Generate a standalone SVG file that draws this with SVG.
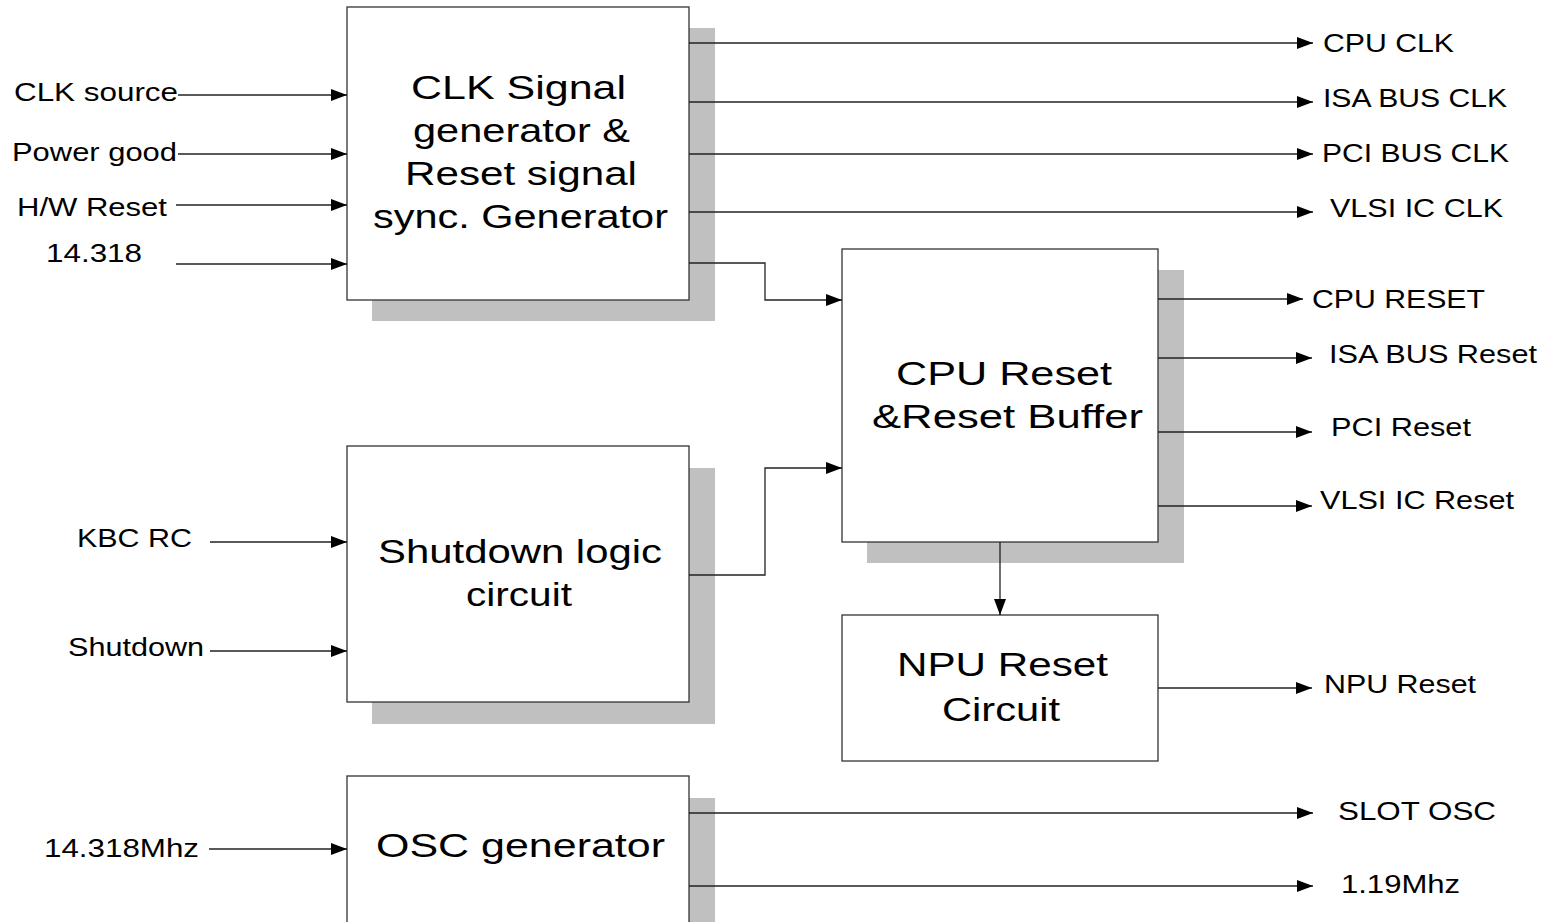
<svg xmlns="http://www.w3.org/2000/svg" width="1552" height="922" viewBox="0 0 1552 922">
<defs>
<marker id="arr" viewBox="0 0 16 12" markerWidth="16" markerHeight="12" refX="16" refY="6" orient="auto" markerUnits="userSpaceOnUse">
<path d="M0,0 L16,6 L0,12 z" fill="#000"/>
</marker>
<style>
.box{fill:#fff;stroke:#333;stroke-width:1.3}
.shadow{fill:#c0c0c0;stroke:none}
.wire{fill:none;stroke:#222;stroke-width:1.3}
.arrow{marker-end:url(#arr)}
.lbl{font-family:"Liberation Sans",Arial,sans-serif;font-size:25px;fill:#000}
.big{font-family:"Liberation Sans",Arial,sans-serif;font-size:34px;fill:#000}
</style>
</defs>
<rect width="1552" height="922" fill="#fff"/>

<g id="node-clk">
<rect class="shadow" x="372" y="28" width="343" height="293"/>
<rect class="box" x="347" y="7" width="342" height="293"/>
<text class="big" x="411" y="99" textLength="215" lengthAdjust="spacingAndGlyphs">CLK Signal</text>
<text class="big" x="413" y="142" textLength="217" lengthAdjust="spacingAndGlyphs">generator &amp;</text>
<text class="big" x="405" y="185" textLength="232" lengthAdjust="spacingAndGlyphs">Reset signal</text>
<text class="big" x="373" y="228" textLength="295" lengthAdjust="spacingAndGlyphs">sync. Generator</text>
</g>

<g id="node-shutdown">
<rect class="shadow" x="372" y="468" width="343" height="256"/>
<rect class="box" x="347" y="446" width="342" height="256"/>
<text class="big" x="378" y="563" textLength="284" lengthAdjust="spacingAndGlyphs">Shutdown logic</text>
<text class="big" x="466" y="606" textLength="106" lengthAdjust="spacingAndGlyphs">circuit</text>
</g>

<g id="node-osc">
<rect class="shadow" x="372" y="798" width="343" height="140"/>
<rect class="box" x="347" y="776" width="342" height="160"/>
<text class="big" x="376" y="857" textLength="289" lengthAdjust="spacingAndGlyphs">OSC generator</text>
</g>

<g id="node-cpureset">
<rect class="shadow" x="867" y="270" width="317" height="293"/>
<rect class="box" x="842" y="249" width="316" height="293"/>
<text class="big" x="896" y="385" textLength="216" lengthAdjust="spacingAndGlyphs">CPU Reset</text>
<text class="big" x="872" y="428" textLength="271" lengthAdjust="spacingAndGlyphs">&amp;Reset Buffer</text>
</g>

<g id="node-npu">
<rect class="box" x="842" y="615" width="316" height="146"/>
<text class="big" x="897" y="676" textLength="211" lengthAdjust="spacingAndGlyphs">NPU Reset</text>
<text class="big" x="942" y="721" textLength="118" lengthAdjust="spacingAndGlyphs">Circuit</text>
</g>

<g id="connectors">
<line class="wire arrow" x1="178" y1="95" x2="347" y2="95"/>
<line class="wire arrow" x1="178" y1="154" x2="347" y2="154"/>
<line class="wire arrow" x1="176" y1="205" x2="347" y2="205"/>
<line class="wire arrow" x1="176" y1="264" x2="347" y2="264"/>
<line class="wire arrow" x1="210" y1="542" x2="347" y2="542"/>
<line class="wire arrow" x1="210" y1="651" x2="347" y2="651"/>
<line class="wire arrow" x1="209" y1="849" x2="347" y2="849"/>

<line class="wire arrow" x1="689" y1="43" x2="1313" y2="43"/>
<line class="wire arrow" x1="689" y1="102" x2="1313" y2="102"/>
<line class="wire arrow" x1="689" y1="154" x2="1313" y2="154"/>
<line class="wire arrow" x1="689" y1="212" x2="1313" y2="212"/>

<polyline class="wire arrow" points="689,263 765,263 765,300 842,300"/>
<polyline class="wire arrow" points="689,575 765,575 765,468 842,468"/>

<line class="wire arrow" x1="1158" y1="299" x2="1303" y2="299"/>
<line class="wire arrow" x1="1158" y1="358" x2="1312" y2="358"/>
<line class="wire arrow" x1="1158" y1="432" x2="1312" y2="432"/>
<line class="wire arrow" x1="1158" y1="506" x2="1312" y2="506"/>

<line class="wire arrow" x1="1000" y1="542" x2="1000" y2="615"/>
<line class="wire arrow" x1="1158" y1="688" x2="1312" y2="688"/>

<line class="wire arrow" x1="689" y1="813" x2="1313" y2="813"/>
<line class="wire arrow" x1="689" y1="886" x2="1313" y2="886"/>
</g>

<g id="labels">
<text class="lbl" x="14" y="101" textLength="164" lengthAdjust="spacingAndGlyphs">CLK source</text>
<text class="lbl" x="12" y="161" textLength="165" lengthAdjust="spacingAndGlyphs">Power good</text>
<text class="lbl" x="17" y="216" textLength="150" lengthAdjust="spacingAndGlyphs">H/W Reset</text>
<text class="lbl" x="46" y="262" textLength="96" lengthAdjust="spacingAndGlyphs">14.318</text>
<text class="lbl" x="77" y="547" textLength="115" lengthAdjust="spacingAndGlyphs">KBC RC</text>
<text class="lbl" x="68" y="656" textLength="136" lengthAdjust="spacingAndGlyphs">Shutdown</text>
<text class="lbl" x="44" y="857" textLength="155" lengthAdjust="spacingAndGlyphs">14.318Mhz</text>

<text class="lbl" x="1323" y="52" textLength="131" lengthAdjust="spacingAndGlyphs">CPU CLK</text>
<text class="lbl" x="1323" y="107" textLength="184" lengthAdjust="spacingAndGlyphs">ISA BUS CLK</text>
<text class="lbl" x="1322" y="162" textLength="187" lengthAdjust="spacingAndGlyphs">PCI BUS CLK</text>
<text class="lbl" x="1330" y="217" textLength="173" lengthAdjust="spacingAndGlyphs">VLSI IC CLK</text>
<text class="lbl" x="1312" y="308" textLength="173" lengthAdjust="spacingAndGlyphs">CPU RESET</text>
<text class="lbl" x="1329" y="363" textLength="208" lengthAdjust="spacingAndGlyphs">ISA BUS Reset</text>
<text class="lbl" x="1331" y="436" textLength="140" lengthAdjust="spacingAndGlyphs">PCI Reset</text>
<text class="lbl" x="1320" y="509" textLength="194" lengthAdjust="spacingAndGlyphs">VLSI IC Reset</text>
<text class="lbl" x="1324" y="693" textLength="152" lengthAdjust="spacingAndGlyphs">NPU Reset</text>
<text class="lbl" x="1338" y="820" textLength="158" lengthAdjust="spacingAndGlyphs">SLOT OSC</text>
<text class="lbl" x="1341" y="893" textLength="119" lengthAdjust="spacingAndGlyphs">1.19Mhz</text>
</g>
</svg>
